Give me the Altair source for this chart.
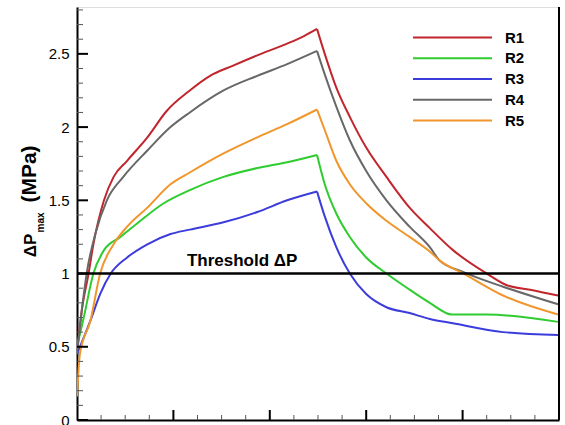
import altair as alt
import pandas as pd

# ---------------- data ----------------
series_names = ["R1", "R2", "R3", "R4", "R5"]
series_colors = ["#C0262C", "#2ECC2E", "#3C3CDC", "#686868", "#F0962C"]

r1_x = [0, 0.05, 0.12, 0.17, 0.28, 0.38, 0.52, 0.73, 0.93, 1.17, 1.38, 1.62, 1.87, 2.18, 2.35, 2.49,
        2.57, 2.69, 2.83, 3.00, 3.21, 3.45, 3.66, 3.90, 4.25, 4.46, 4.70, 4.99]
r1_y = [0.47, 0.75, 1.00, 1.20, 1.50, 1.66, 1.77, 1.93, 2.11, 2.25, 2.35, 2.42, 2.49, 2.57, 2.62, 2.67,
        2.50, 2.27, 2.07, 1.86, 1.66, 1.45, 1.31, 1.16, 1.00, 0.92, 0.89, 0.85]

r2_x = [0, 0.07, 0.17, 0.28, 0.45, 0.62, 0.90, 1.17, 1.52, 1.87, 2.18, 2.49,
        2.57, 2.69, 2.83, 3.00, 3.21, 3.45, 3.66, 3.89, 4.25, 4.99]
r2_y = [0.50, 0.70, 1.00, 1.16, 1.25, 1.34, 1.48, 1.57, 1.66, 1.72, 1.76, 1.81,
        1.61, 1.41, 1.25, 1.11, 1.00, 0.89, 0.80, 0.72, 0.72, 0.67]

r3_x = [0, 0.14, 0.24, 0.35, 0.52, 0.73, 0.97, 1.17, 1.52, 1.87, 2.18, 2.49,
        2.57, 2.69, 2.83, 3.00, 3.21, 3.45, 3.66, 3.90, 4.42, 4.99]
r3_y = [0.45, 0.68, 0.86, 1.00, 1.11, 1.20, 1.27, 1.30, 1.35, 1.42, 1.50, 1.56,
        1.39, 1.18, 1.00, 0.86, 0.77, 0.73, 0.69, 0.66, 0.60, 0.58]

r4_x = [0, 0.05, 0.10, 0.19, 0.31, 0.48, 0.73, 0.97, 1.17, 1.52, 1.87, 2.18, 2.49,
        2.57, 2.69, 2.83, 3.00, 3.21, 3.45, 3.66, 3.76, 4.01, 4.42, 4.99]
r4_y = [0.45, 0.75, 1.00, 1.27, 1.50, 1.66, 1.84, 2.00, 2.10, 2.25, 2.35, 2.43, 2.52,
        2.36, 2.14, 1.91, 1.70, 1.50, 1.32, 1.18, 1.09, 1.01, 0.91, 0.79]

r5_x = [0, 0.03, 0.14, 0.24, 0.38, 0.52, 0.73, 0.97, 1.17, 1.52, 1.87, 2.18, 2.49,
        2.57, 2.69, 2.83, 3.00, 3.21, 3.45, 3.66, 3.76, 4.01, 4.42, 4.99]
r5_y = [0.16, 0.45, 0.68, 1.00, 1.20, 1.32, 1.45, 1.61, 1.69, 1.82, 1.93, 2.02, 2.12,
        1.98, 1.77, 1.61, 1.48, 1.36, 1.25, 1.15, 1.09, 1.00, 0.85, 0.72]

threshold_value = 1.0
threshold_label = "Threshold ΔP"

y_major_ticks = [0, 0.5, 1, 1.5, 2, 2.5]
y_minor_ticks = [0.1, 0.2, 0.3, 0.4, 0.6, 0.7, 0.8, 0.9, 1.1, 1.2, 1.3, 1.4, 1.6, 1.7, 1.8, 1.9,
                 2.1, 2.2, 2.3, 2.4, 2.6, 2.7, 2.8]
x_major_ticks = [1, 2, 3, 4]
x_minor_ticks = [0.25, 0.5, 0.75, 1.25, 1.5, 1.75, 2.25, 2.5, 2.75, 3.25, 3.5, 3.75,
                 4.25, 4.5, 4.75]

# ---------------- build tables ----------------
# each curve is split at its peak into a rising and a falling branch so the
# smooth interpolation keeps the sharp corner at the peak
rows = []
for name, xs_, ys_ in [("R1", r1_x, r1_y), ("R2", r2_x, r2_y), ("R3", r3_x, r3_y),
                       ("R4", r4_x, r4_y), ("R5", r5_x, r5_y)]:
    peak = ys_.index(max(ys_))
    for i, (xv, yv) in enumerate(zip(xs_, ys_)):
        if i <= peak:
            rows.append({"series": name, "seg": name + "_up", "x": xv, "y": yv, "order": i})
        if i >= peak:
            rows.append({"series": name, "seg": name + "_down", "x": xv, "y": yv, "order": i})
df = pd.DataFrame(rows)

W, H = 482, 413
X_DOM = [0, 5]
Y_DOM = [0, 2.82]
FONT = "Liberation Sans"

xs = alt.Scale(domain=X_DOM, nice=False, zero=False)
ys = alt.Scale(domain=Y_DOM, nice=False, zero=False)
color_scale = alt.Scale(domain=series_names, range=series_colors)

lines = alt.Chart(df).mark_line(strokeWidth=2, clip=True, interpolate="monotone").encode(
    x=alt.X("x:Q", scale=xs,
            axis=alt.Axis(labels=False, ticks=False, title=None, grid=False,
                          domainColor="black", domainWidth=2)),
    y=alt.Y("y:Q", scale=ys,
            axis=alt.Axis(values=y_major_ticks, ticks=False, tickSize=0, labelPadding=8,
                          labelFontSize=15, labelFont=FONT, labelColor="black",
                          grid=False, title=None, domainColor="black", domainWidth=2,
                          labelExpr="format(datum.value, '~g')")),
    color=alt.Color("series:N", scale=color_scale, legend=None),
    order="order:Q",
    detail="seg:N",
)

thr = alt.Chart(pd.DataFrame({"v": [threshold_value]})).mark_rule(
    color="black", strokeWidth=2.5).encode(
    y=alt.Y("v:Q", scale=ys), x=alt.datum(0), x2=alt.datum(5))

thr_text = alt.Chart(pd.DataFrame({"v": [threshold_value], "t": [threshold_label]})).mark_text(
    align="left", baseline="alphabetic", dy=-8, fontSize=17, fontWeight="bold", font=FONT,
    color="black").encode(
    x=alt.datum(1.14), y=alt.Y("v:Q", scale=ys), text="t:N")

right_border = alt.Chart(pd.DataFrame({"v": [5]})).mark_rule(
    color="black", strokeWidth=2).encode(
    x=alt.X("v:Q", scale=xs), y=alt.value(0), y2=alt.value(H))

ymaj = alt.Chart(pd.DataFrame({"v": y_major_ticks})).mark_rule(
    color="black", strokeWidth=2).encode(
    y=alt.Y("v:Q", scale=ys), x=alt.value(0), x2=alt.value(11))
ymin = alt.Chart(pd.DataFrame({"v": y_minor_ticks})).mark_rule(
    color="#555555", strokeWidth=1).encode(
    y=alt.Y("v:Q", scale=ys), x=alt.value(0), x2=alt.value(6))
xmaj = alt.Chart(pd.DataFrame({"v": x_major_ticks})).mark_rule(
    color="black", strokeWidth=2).encode(
    x=alt.X("v:Q", scale=xs), y=alt.value(H), y2=alt.value(H - 10))
xmin = alt.Chart(pd.DataFrame({"v": x_minor_ticks})).mark_rule(
    color="#555555", strokeWidth=1).encode(
    x=alt.X("v:Q", scale=xs), y=alt.value(H), y2=alt.value(H - 5))

# y-axis title with subscript, as real text
t1 = alt.Chart(pd.DataFrame({"t": ["ΔP"]})).mark_text(
    angle=270, align="center", baseline="alphabetic", fontSize=17, fontWeight="bold",
    font=FONT, color="black").encode(x=alt.value(-41), y=alt.value(238.5), text="t:N")
t2 = alt.Chart(pd.DataFrame({"t": ["max"]})).mark_text(
    angle=270, align="center", baseline="alphabetic", fontSize=10, fontWeight="bold",
    font=FONT, color="black").encode(x=alt.value(-33), y=alt.value(215.5), text="t:N")
t3 = alt.Chart(pd.DataFrame({"t": ["(MPa)"]})).mark_text(
    angle=270, align="center", baseline="alphabetic", fontSize=21, fontWeight="bold",
    font=FONT, color="black").encode(x=alt.value(-41), y=alt.value(167), text="t:N")

main = alt.layer(lines, thr, thr_text, right_border, ymin, ymaj, xmin, xmaj, t1, t2, t3)

# manual legend
leg_df = pd.DataFrame({"series": series_names})
leg_y = alt.Y("series:N", scale=alt.Scale(type="point", domain=series_names,
                                            range=[30.5, 113.5], padding=0), axis=None)
leg_lines = alt.Chart(leg_df).mark_rule(strokeWidth=2).encode(
    y=leg_y, x=alt.value(336), x2=alt.value(415),
    color=alt.Color("series:N", scale=color_scale, legend=None))
leg_text = alt.Chart(leg_df).mark_text(
    align="left", baseline="middle", fontSize=15, fontWeight="bold", font=FONT,
    color="black").encode(y=leg_y, x=alt.value(428), text="series:N")
legend = alt.layer(leg_lines, leg_text)

chart = alt.layer(main, legend).resolve_scale(y="independent").properties(
    width=W, height=H,
    autosize=alt.AutoSizeParams(type="none"),
    padding={"left": 77, "top": 7, "right": 6, "bottom": 5},
).configure_view(stroke=None).configure(background="white")

chart.save("out.html", embed_options={"renderer": "svg", "actions": False})
